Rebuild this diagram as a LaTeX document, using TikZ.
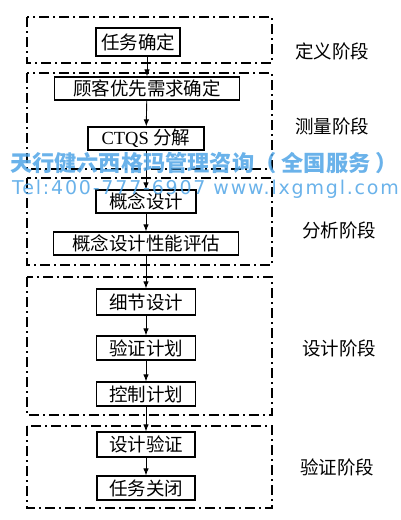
\documentclass[tikz,border=0pt]{standalone}
\usepackage{fontspec}
\usetikzlibrary{arrows.meta}
\setmainfont{Liberation Serif}
\newfontfamily\cjk{Noto Sans CJK SC}
\newfontfamily\wmlat[LetterSpace=9.5]{DejaVu Sans}
\definecolor{wmblue}{RGB}{80,165,230}
\tikzset{
  stagebox/.style={draw, line width=1.2pt, inner sep=0pt, font=\cjk\fontsize{18.5}{20}\selectfont},
  frame/.style={line width=1.2pt, dash pattern=on 10pt off 4pt on 2pt off 4pt},
  stagelabel/.style={font=\cjk\fontsize{18.5}{20}\selectfont},
  arr/.style={-{Latex[length=7pt, width=5.5pt]}, line width=0.9pt},
}
\begin{document}
\begin{tikzpicture}[x=1pt, y=-1pt]
\useasboundingbox (0,0) rectangle (400,520);
% phase frames
\draw [frame] (27,17) rectangle (272,63);
\draw [frame] (27,73) rectangle (272,169);
\draw [frame] (27,178) rectangle (272,265);
\draw [frame] (27,277) rectangle (272,415);
\draw [frame] (27,426) rectangle (272,508);
% steps
\node [stagebox, minimum width=84pt, minimum height=28pt] (task) at (138,42) {任务确定};
\node [stagebox, minimum width=185pt, minimum height=23pt] (prio) at (147,88.5) {顾客优先需求确定};
\node [stagebox, minimum width=116pt, minimum height=23pt] (ctqs) at (146,138.5) {\rmfamily CTQS \cjk 分解};
\node [stagebox, minimum width=100pt, minimum height=23pt] (concept) at (146,201.5) {概念设计};
\node [stagebox, minimum width=185pt, minimum height=23pt] (eval) at (146,243.5) {概念设计性能评估};
\node [stagebox, minimum width=99pt, minimum height=26pt] (detail) at (146,302) {细节设计};
\node [stagebox, minimum width=99pt, minimum height=24pt] (vplan) at (146,348) {验证计划};
\node [stagebox, minimum width=99pt, minimum height=24pt] (cplan) at (146,394) {控制计划};
\node [stagebox, minimum width=98pt, minimum height=25pt] (dverify) at (146,444.5) {设计验证};
\node [stagebox, minimum width=98pt, minimum height=24pt] (close) at (146,488) {任务关闭};
% arrows
\draw [arr] (task.south -| prio.north) -- (prio.north);
\foreach \a/\b in {prio/ctqs, ctqs/concept, concept/eval, eval/detail, detail/vplan, vplan/cplan, cplan/dverify, dverify/close}
  \draw [arr] (\a) -- (\b);
% phase names
\node [stagelabel] (ldef) at (332,51) {定义阶段};
\node [stagelabel] (lmeas) at (332,126) {测量阶段};
\node [stagelabel] (lanal) at (339,230) {分析阶段};
\node [stagelabel] (ldes) at (339,348) {设计阶段};
\node [stagelabel] (lver) at (337,467) {验证阶段};
% watermark
\node [anchor=west, inner sep=0pt, text=wmblue, opacity=0.85, font=\cjk\bfseries\fontsize{22.2}{24}\selectfont] (wmname) at (10,163) {天行健六西格玛管理咨询（ 全国服务 ）};
\node [anchor=west, inner sep=0pt, text=wmblue, opacity=0.85, font=\wmlat\fontsize{19}{20}\selectfont] (wmtel) at (12,189) {Tel:400-777-6907 www.lxgmgl.com};
\end{tikzpicture}
\end{document}
